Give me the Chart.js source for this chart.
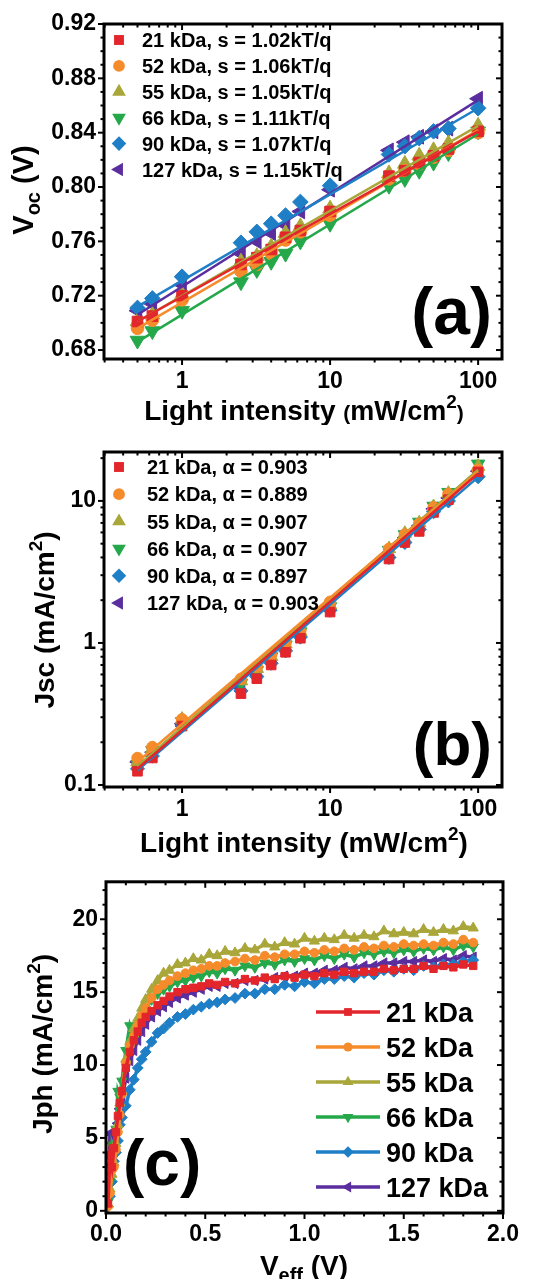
<!DOCTYPE html>
<html lang="en">
<head>
<meta charset="UTF-8">
<title>Voc, Jsc and Jph of the six molecular weights</title>
<script src="https://cdn.jsdelivr.net/npm/chart.js@4.4.1/dist/chart.umd.min.js"></script>
<style>
  html, body { margin: 0; padding: 0; background: #fff; }
  .panel { position: relative; width: 545px; }
  #boxA { height: 425px; }
  #boxB { height: 435px; }
  #boxC { height: 419px; }
</style>
</head>
<body>
<div class="panel" id="boxA"><canvas id="chartA"></canvas></div>
<div class="panel" id="boxB"><canvas id="chartB"></canvas></div>
<div class="panel" id="boxC"><canvas id="chartC"></canvas></div>
<script>
// ---- data ----
const names = ['21 kDa', '52 kDa', '55 kDa', '66 kDa', '90 kDa', '127 kDa'];
const intensity = [0.5, 0.63, 1, 2.5, 3.2, 4, 5, 6.3, 10, 25, 32, 40, 50, 63, 100];

// (a) Voc (V)
const voc21  = [0.701, 0.705, 0.720, 0.743, 0.748, 0.754, 0.763, 0.768, 0.782, 0.808, 0.812, 0.818, 0.823, 0.828, 0.841];
const voc52  = [0.696, 0.702, 0.717, 0.738, 0.743, 0.751, 0.761, 0.767, 0.779, 0.806, 0.812, 0.817, 0.822, 0.827, 0.840];
const voc55  = [0.701, 0.706, 0.721, 0.745, 0.749, 0.756, 0.766, 0.771, 0.784, 0.810, 0.817, 0.823, 0.827, 0.832, 0.845];
const voc66  = [0.687, 0.694, 0.709, 0.730, 0.739, 0.745, 0.751, 0.760, 0.773, 0.801, 0.806, 0.812, 0.818, 0.825, 0.841];
const voc90  = [0.711, 0.718, 0.734, 0.759, 0.767, 0.773, 0.779, 0.789, 0.801, 0.824, 0.830, 0.836, 0.841, 0.843, 0.858];
const voc127 = [0.709, 0.714, 0.728, 0.751, 0.760, 0.766, 0.772, 0.782, 0.798, 0.827, 0.833, 0.837, 0.841, 0.843, 0.865];
const fitX = [0.5, 100];
const vocFitLow  = [0.701, 0.696, 0.701, 0.686, 0.712, 0.706];
const vocFitHigh = [0.841, 0.842, 0.845, 0.839, 0.858, 0.864];
const legendA = ['21 kDa, s = 1.02kT/q', '52 kDa, s = 1.06kT/q', '55 kDa, s = 1.05kT/q',
                 '66 kDa, s = 1.11kT/q', '90 kDa, s = 1.07kT/q', '127 kDa, s = 1.15kT/q'];

// (b) Jsc (mA/cm2)
const jsc21  = [0.125, 0.155, 0.26, 0.44, 0.56, 0.70, 0.86, 1.08, 1.65, 3.9, 5.1, 6.1, 8.3, 10.2, 16.0];
const jsc52  = [0.155, 0.185, 0.29, 0.56, 0.68, 0.82, 1.00, 1.22, 1.95, 4.6, 5.8, 6.9, 9.0, 11.2, 16.5];
const jsc55  = [0.145, 0.180, 0.29, 0.54, 0.66, 0.80, 0.98, 1.20, 1.85, 4.6, 5.9, 7.0, 9.1, 11.3, 17.5];
const jsc66  = [0.140, 0.175, 0.28, 0.52, 0.64, 0.80, 0.97, 1.20, 1.80, 4.5, 5.8, 7.1, 9.2, 11.5, 18.2];
const jsc90  = [0.130, 0.160, 0.26, 0.46, 0.58, 0.72, 0.88, 1.10, 1.70, 4.0, 5.1, 6.3, 8.4, 10.0, 14.8];
const jsc127 = [0.145, 0.170, 0.27, 0.48, 0.60, 0.76, 0.92, 1.12, 1.75, 4.2, 5.5, 6.7, 8.8, 10.5, 16.2];
const jscFitLow  = [0.130, 0.145, 0.135, 0.135, 0.127, 0.132];
const jscFitHigh = [15.6, 16.1, 16.5, 16.5, 14.7, 15.8];
const legendB = ['21 kDa, α = 0.903', '52 kDa, α = 0.889', '55 kDa, α = 0.907',
                 '66 kDa, α = 0.907', '90 kDa, α = 0.897', '127 kDa, α = 0.903'];

// (c) Jph (mA/cm2) vs Veff (V)
const veff = [0.01, 0.02, 0.03, 0.04, 0.05, 0.06, 0.07, 0.08, 0.10, 0.12, 0.14, 0.16, 0.18, 0.20, 0.23, 0.26, 0.29,
              0.32, 0.36, 0.40, 0.44, 0.48, 0.52, 0.56, 0.60, 0.65, 0.70, 0.75, 0.80, 0.85, 0.90, 0.95, 1.00, 1.05,
              1.10, 1.15, 1.20, 1.25, 1.30, 1.35, 1.40, 1.45, 1.50, 1.55, 1.60, 1.65, 1.70, 1.75, 1.80, 1.85];
const jph21  = [0.5, 3.8, 3.0, 4.3, 5.4, 6.5, 7.4, 8.2, 9.8, 10.9, 11.7, 12.3, 12.9, 13.3, 13.7, 14.1, 14.4, 14.7, 15.0, 15.2,
                15.3, 15.4, 15.6, 15.5, 15.7, 15.6, 15.9, 15.8, 16.0, 15.9, 16.1, 16.0, 16.2, 16.1, 16.3, 16.2, 16.4, 16.3,
                16.4, 16.4, 16.6, 16.5, 16.6, 16.6, 16.8, 16.6, 16.8, 16.7, 16.9, 16.8];
const jph52  = [0.3, 1.2, 2.8, 3.0, 4.2, 5.4, 6.6, 8.0, 10.1, 11.3, 12.0, 12.7, 13.4, 13.9, 14.6, 15.2, 15.5, 15.8, 16.1, 16.3,
                16.5, 16.6, 16.8, 16.8, 17.0, 17.1, 17.3, 17.2, 17.5, 17.4, 17.6, 17.6, 17.8, 17.7, 17.9, 17.8, 18.0, 17.9,
                18.1, 18.0, 18.2, 18.1, 18.3, 18.2, 18.3, 18.2, 18.4, 18.3, 18.6, 18.4];
const jph55  = [0.4, 1.5, 2.5, 3.3, 4.6, 5.9, 7.4, 8.2, 10.4, 11.6, 12.5, 13.2, 13.9, 14.5, 15.2, 15.8, 16.3, 16.5, 16.9, 17.0,
                17.3, 17.2, 17.6, 17.5, 17.8, 17.7, 18.0, 17.9, 18.3, 18.1, 18.4, 18.3, 18.7, 18.5, 18.7, 18.6, 18.9, 18.7,
                18.9, 18.8, 19.2, 19.0, 19.1, 19.0, 19.3, 19.1, 19.3, 19.2, 19.5, 19.4];
const jph66  = [0.6, 2.0, 4.5, 4.0, 5.6, 8.2, 7.8, 8.9, 11.0, 12.7, 11.8, 12.6, 13.3, 13.8, 14.5, 14.9, 15.2, 15.4, 15.7, 15.8,
                16.0, 16.1, 16.4, 16.3, 16.6, 16.5, 16.8, 16.7, 17.0, 16.9, 17.2, 17.1, 17.3, 17.2, 17.5, 17.3, 17.6, 17.4,
                17.7, 17.6, 17.8, 17.7, 17.9, 17.8, 18.0, 17.9, 18.1, 17.9, 18.2, 18.1];
const jph90  = [0.3, 1.0, 2.0, 3.4, 4.0, 4.8, 5.9, 6.4, 7.2, 8.3, 9.0, 9.8, 10.4, 10.9, 11.6, 12.2, 12.5, 12.9, 13.3, 13.5,
                13.8, 14.0, 14.2, 14.3, 14.5, 14.6, 14.9, 14.9, 15.2, 15.2, 15.5, 15.4, 15.7, 15.6, 15.9, 15.9, 16.1, 16.0,
                16.3, 16.2, 16.5, 16.4, 16.6, 16.5, 16.8, 16.7, 16.9, 16.9, 17.1, 17.2];
const jph127 = [1.0, 5.3, 3.2, 4.0, 5.0, 6.0, 7.0, 7.6, 9.1, 10.3, 11.0, 11.7, 12.3, 12.8, 13.3, 13.7, 14.0, 14.3, 14.6, 14.8,
                15.0, 15.2, 15.4, 15.4, 15.6, 15.6, 15.8, 15.8, 15.9, 16.0, 16.1, 16.1, 16.3, 16.3, 16.5, 16.5, 16.7, 16.6,
                16.8, 16.8, 17.0, 17.0, 17.1, 17.1, 17.2, 17.1, 17.3, 17.2, 17.5, 17.4];

// tick labels
const vocTicks = [0.68, 0.72, 0.76, 0.80, 0.84, 0.88, 0.92];
const intensityTicks = [1, 10, 100];
const jscTicks = [0.1, 1, 10];
const jphTicks = [0, 5, 10, 15, 20];
const veffTicks = [0, 0.5, 1.0, 1.5, 2.0];

// ---- styles ----
const colors = ['#e3262b', '#f68b2c', '#a9a63a', '#25a84a', '#1f7fc6', '#5a2e9e'];
const shapes = ['rect', 'circle', 'triangle', 'triangle', 'rectRot', 'triangle'];
const turns = [0, 0, 0, 180, 0, -90];
const sizes = [7.5, 6.3, 8.5, 8.5, 7.8, 8.5];
const FONT = '"Liberation Sans", Arial, Helvetica, sans-serif';

Chart.defaults.font.family = FONT;
Chart.defaults.font.weight = 'bold';
Chart.defaults.color = '#000';

function pts(xs, ys) { return xs.map((x, i) => ({ x: x, y: ys[i] })); }

function marker(ctx, i, x, y, r) {
  ctx.beginPath();
  const s = shapes[i];
  if (s === 'circle') {
    ctx.arc(x, y, r, 0, Math.PI * 2);
  } else if (s === 'rect') {
    const h = r * Math.SQRT1_2;
    ctx.rect(x - h, y - h, 2 * h, 2 * h);
  } else if (s === 'rectRot') {
    ctx.moveTo(x, y - r); ctx.lineTo(x + r, y); ctx.lineTo(x, y + r); ctx.lineTo(x - r, y); ctx.closePath();
  } else {
    let a = turns[i] * Math.PI / 180;
    for (let k = 0; k < 3; k++) {
      const px = x + Math.sin(a) * r, py = y - Math.cos(a) * r;
      if (k) ctx.lineTo(px, py); else ctx.moveTo(px, py);
      a += 2 * Math.PI / 3;
    }
    ctx.closePath();
  }
  ctx.fillStyle = colors[i];
  ctx.fill();
}

function richText(ctx, parts, x, y, rotate) {
  ctx.save();
  ctx.translate(x, y);
  if (rotate) ctx.rotate(-Math.PI / 2);
  ctx.textAlign = 'left';
  ctx.textBaseline = 'alphabetic';
  ctx.fillStyle = '#000';
  let total = 0;
  parts.forEach(p => { ctx.font = 'bold ' + p[1] + 'px ' + FONT; p.w = ctx.measureText(p[0]).width; total += p.w; });
  let cx = -total / 2;
  parts.forEach(p => { ctx.font = 'bold ' + p[1] + 'px ' + FONT; ctx.fillText(p[0], cx, p[2] || 0); cx += p.w; });
  ctx.restore();
}

// frame with ticks on all four sides, legend, panel letter, axis titles
const decor = {
  id: 'decor',
  afterDatasetsDraw(chart, args, o) {
    const ctx = chart.ctx, a = chart.chartArea;
    const xs = chart.scales.x, ys = chart.scales.y;
    ctx.save();
    ctx.strokeStyle = '#000';
    ctx.lineWidth = 2;
    const line = (x1, y1, x2, y2) => { ctx.beginPath(); ctx.moveTo(x1, y1); ctx.lineTo(x2, y2); ctx.stroke(); };
    const xt = (list, len) => list.forEach(v => {
      const x = xs.getPixelForValue(v);
      line(x, a.bottom, x, a.bottom + len); line(x, a.top, x, a.top + len);
    });
    const yt = (list, len) => list.forEach(v => {
      const y = ys.getPixelForValue(v);
      line(a.left - len, y, a.left, y); line(a.right, y, a.right - len, y);
    });
    xt(o.xMajor, 6); xt(o.xMinor, 3.5);
    yt(o.yMajor, 6); yt(o.yMinor, 3.5);
    ctx.lineWidth = 3;
    ctx.strokeRect(a.left, a.top, a.right - a.left, a.bottom - a.top);

    // panel letter
    ctx.fillStyle = '#000';
    ctx.font = 'bold ' + o.letter.size + 'px ' + FONT;
    ctx.textAlign = o.letter.align;
    ctx.textBaseline = 'alphabetic';
    ctx.fillText(o.letter.text, o.letter.x, o.letter.y);

    // legend
    const L = o.legend;
    L.labels.forEach((t, i) => {
      const y = L.y + i * L.dy;
      if (L.line) {
        ctx.strokeStyle = colors[i];
        ctx.lineWidth = 3.5;
        line(L.line[0], y, L.line[1], y);
      }
      marker(ctx, i, L.x, y, L.r * sizes[i] / 7.5);
      ctx.fillStyle = '#000';
      ctx.font = 'bold ' + L.size + 'px ' + FONT;
      ctx.textAlign = 'left';
      ctx.textBaseline = 'alphabetic';
      ctx.fillText(t, L.textX, y + 0.36 * L.size);
    });

    richText(ctx, o.xTitle.parts, o.xTitle.x, o.xTitle.y, false);
    richText(ctx, o.yTitle.parts, o.yTitle.x, o.yTitle.y, true);
    ctx.restore();
  }
};

function logMinors(lo, hi) {
  const out = [];
  for (let e = -2; e <= 3; e++) {
    for (let m = 2; m <= 9; m++) {
      const v = m * Math.pow(10, e);
      if (v > lo && v < hi) out.push(v);
    }
  }
  return out;
}
function linMinors(lo, hi, step, majors) {
  const out = [];
  for (let v = lo; v <= hi + 1e-9; v += step) {
    const r = Math.round(v * 1000) / 1000;
    if (!majors.some(m => Math.abs(m - r) < 1e-6)) out.push(r);
  }
  return out;
}

function axis(type, min, max, ticks, fmt, size, fitKey) {
  return {
    type: type, min: min, max: max, bounds: 'data',
    afterBuildTicks: s => { s.ticks = ticks.map(v => ({ value: v })); },
    afterFit: s => { s[fitKey[0]] = fitKey[1]; },
    ticks: { callback: fmt, autoSkip: false, maxRotation: 0, font: { size: 23, weight: 'bold' }, color: '#000', padding: size },
    grid: { display: false, drawTicks: false },
    border: { display: false }
  };
}

function scatterSets(xs, series, r, lineW) {
  return series.map((ys, i) => ({
    label: names[i],
    data: pts(xs, ys),
    showLine: lineW > 0,
    borderColor: colors[i],
    borderWidth: lineW,
    backgroundColor: colors[i],
    pointStyle: shapes[i],
    rotation: turns[i],
    pointRadius: r * sizes[i] / 7.5,
    pointHoverRadius: r * sizes[i] / 7.5,
    pointBorderWidth: 1,
    order: 1
  }));
}
function fitSets(lows, highs) {
  return lows.map((lo, i) => ({
    label: names[i] + ' fit',
    data: pts(fitX, [lo, highs[i]]),
    showLine: true,
    borderColor: colors[i],
    borderWidth: 2.5,
    pointRadius: 0,
    order: 0
  }));
}

const common = {
  responsive: true,
  maintainAspectRatio: false,
  animation: false,
  devicePixelRatio: 1,
  events: []
};

// (a)
new Chart(document.getElementById('chartA'), {
  type: 'scatter',
  data: {
    datasets: scatterSets(intensity, [voc21, voc52, voc55, voc66, voc90, voc127], 7.5, 0)
      .concat(fitSets(vocFitLow, vocFitHigh))
  },
  options: Object.assign({}, common, {
    layout: { padding: { top: 24, right: 43, left: 0, bottom: 0 } },
    scales: {
      x: axis('logarithmic', 0.297, 145, intensityTicks, v => String(v), 9, ['height', 66]),
      y: axis('linear', 0.6734, 0.92, vocTicks, v => v.toFixed(2), 8, ['width', 104])
    },
    plugins: {
      legend: { display: false },
      tooltip: { enabled: false },
      decor: {
        xMajor: intensityTicks, xMinor: logMinors(0.297, 145),
        yMajor: vocTicks, yMinor: linMinors(0.68, 0.92, 0.01, vocTicks),
        letter: { text: '(a)', x: 492, y: 334, size: 66, align: 'right' },
        legend: { labels: legendA, x: 119, y: 40, dy: 25.9, textX: 142, size: 20, r: 7 },
        xTitle: { x: 304, y: 420, parts: [['Light intensity ', 28], ['(', 21], ['mW/cm', 27], ['2', 19, -12], [')', 21]] },
        yTitle: { x: 33, y: 190, parts: [['V', 29], ['oc', 20, 7], [' (V)', 29]] }
      }
    }
  }),
  plugins: [decor]
});

// (b)
new Chart(document.getElementById('chartB'), {
  type: 'scatter',
  data: {
    datasets: scatterSets(intensity, [jsc21, jsc52, jsc55, jsc66, jsc90, jsc127], 6.8, 0)
      .concat(fitSets(jscFitLow, jscFitHigh))
  },
  options: Object.assign({}, common, {
    layout: { padding: { top: 27, right: 43, left: 0, bottom: 0 } },
    scales: {
      x: axis('logarithmic', 0.297, 145, intensityTicks, v => String(v), 9, ['height', 73]),
      y: axis('logarithmic', 0.0968, 22.1, jscTicks, v => String(v), 8, ['width', 104])
    },
    plugins: {
      legend: { display: false },
      tooltip: { enabled: false },
      decor: {
        xMajor: intensityTicks, xMinor: logMinors(0.297, 145),
        yMajor: jscTicks, yMinor: logMinors(0.0968, 22.1),
        letter: { text: '(b)', x: 492, y: 340, size: 62, align: 'right' },
        legend: { labels: legendB, x: 119, y: 42, dy: 27.2, textX: 147, size: 20, r: 7 },
        xTitle: { x: 304, y: 427, parts: [['Light intensity (mW/cm', 28], ['2', 19, -12], [')', 28]] },
        yTitle: { x: 54, y: 195, parts: [['Jsc (mA/cm', 28], ['2', 19, -12], [')', 28]] }
      }
    }
  }),
  plugins: [decor]
});

// (c)
new Chart(document.getElementById('chartC'), {
  type: 'scatter',
  data: {
    datasets: scatterSets(veff, [jph21, jph52, jph55, jph66, jph90, jph127], 5.2, 3.5)
  },
  options: Object.assign({}, common, {
    layout: { padding: { top: 17, right: 42, left: 0, bottom: 0 } },
    scales: {
      x: axis('linear', 0, 2.0, veffTicks, v => v.toFixed(1), 8, ['height', 66]),
      y: axis('linear', -0.15, 22.57, jphTicks, v => String(v), 8, ['width', 106])
    },
    plugins: {
      legend: { display: false },
      tooltip: { enabled: false },
      decor: {
        xMajor: veffTicks, xMinor: linMinors(0, 2.0, 0.1, veffTicks),
        yMajor: jphTicks, yMinor: linMinors(0, 22, 1, jphTicks),
        letter: { text: '(c)', x: 123, y: 325, size: 64, align: 'left' },
        legend: { labels: names, x: 348, y: 152, dy: 35, textX: 386, size: 27, r: 5.5, line: [316, 380] },
        xTitle: { x: 304, y: 415, parts: [['V', 28], ['eff', 20, 7], [' (V)', 28]] },
        yTitle: { x: 52, y: 184, parts: [['Jph (mA/cm', 28], ['2', 19, -12], [')', 28]] }
      }
    }
  }),
  plugins: [decor]
});
</script>
</body>
</html>
